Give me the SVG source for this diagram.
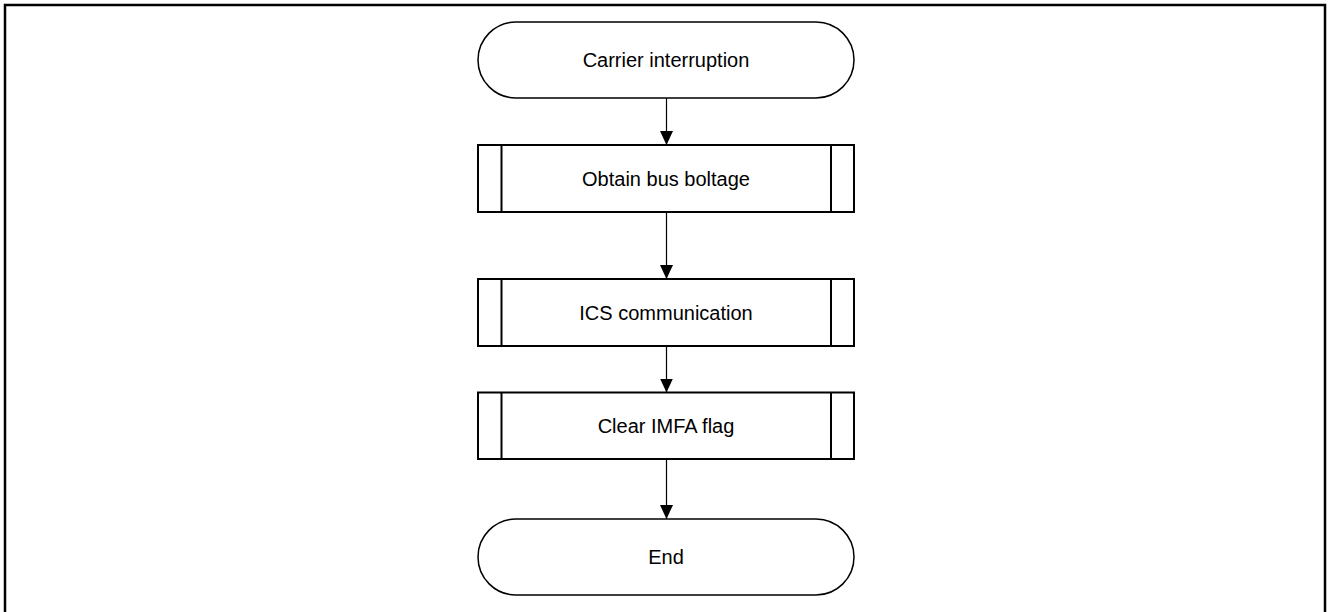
<svg xmlns="http://www.w3.org/2000/svg" width="1328" height="612" viewBox="0 0 1328 612">
  <defs>
    <marker id="arrow" markerWidth="14" markerHeight="13" refX="14" refY="6.5" orient="auto" markerUnits="userSpaceOnUse">
      <path d="M0,0 L14,6.5 L0,13 Z" fill="#000"/>
    </marker>
    <style>
      .frame { fill: none; stroke: #000; stroke-width: 2.5; }
      .term { fill: #fff; stroke: #000; stroke-width: 1.5; }
      .proc { fill: #fff; stroke: #000; stroke-width: 2; }
      .label { font-family: "Liberation Sans", Arial, sans-serif; font-size: 20px; fill: #000; text-anchor: middle; }
      .conn { fill: none; stroke: #000; stroke-width: 1.2; marker-end: url(#arrow); }
    </style>
  </defs>
  <rect width="1328" height="612" fill="#fff"/>

  <!-- page frame, open at the bottom -->
  <path class="frame" d="M5,614 V5 H1325 V614"/>

  <g id="connectors">
    <line class="conn" x1="666.5" y1="98" x2="666.5" y2="145"/>
    <line class="conn" x1="666.5" y1="212" x2="666.5" y2="279"/>
    <line class="conn" x1="666.5" y1="346" x2="666.5" y2="392.5"/>
    <line class="conn" x1="666.5" y1="459" x2="666.5" y2="519"/>
  </g>

  <g id="start">
    <rect class="term" x="478" y="22" width="376" height="76" rx="38" ry="38"/>
    <text class="label" x="666" y="67">Carrier interruption</text>
  </g>

  <g id="obtain-bus-voltage">
    <rect class="proc" x="478" y="145" width="376" height="67"/>
    <line class="proc" x1="501.5" y1="145" x2="501.5" y2="212"/>
    <line class="proc" x1="831" y1="145" x2="831" y2="212"/>
    <text class="label" x="666" y="185.5">Obtain bus boltage</text>
  </g>

  <g id="ics-communication">
    <rect class="proc" x="478" y="279" width="376" height="67"/>
    <line class="proc" x1="501.5" y1="279" x2="501.5" y2="346"/>
    <line class="proc" x1="831" y1="279" x2="831" y2="346"/>
    <text class="label" x="666" y="319.5">ICS communication</text>
  </g>

  <g id="clear-imfa-flag">
    <rect class="proc" x="478" y="392.5" width="376" height="66.5"/>
    <line class="proc" x1="501.5" y1="392.5" x2="501.5" y2="459"/>
    <line class="proc" x1="831" y1="392.5" x2="831" y2="459"/>
    <text class="label" x="666" y="433">Clear IMFA flag</text>
  </g>

  <g id="end">
    <rect class="term" x="478" y="519" width="376" height="76" rx="38" ry="38"/>
    <text class="label" x="666" y="564">End</text>
  </g>
</svg>
